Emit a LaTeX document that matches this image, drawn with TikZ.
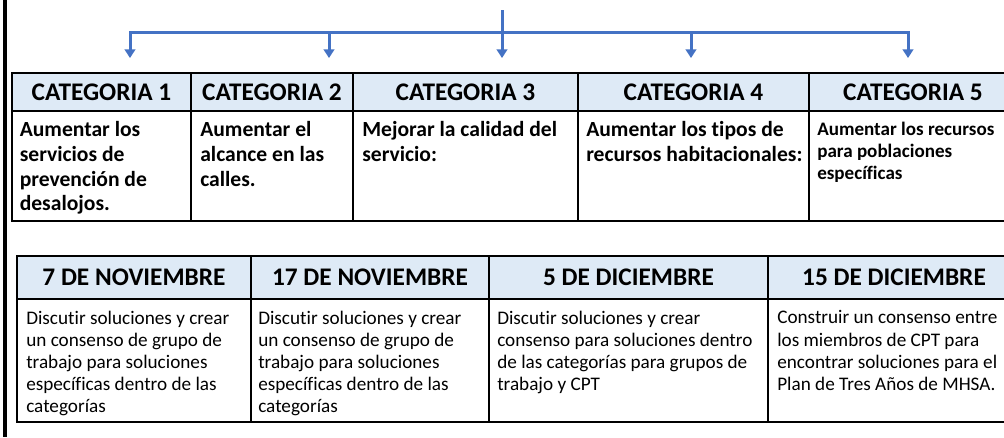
\documentclass[tikz,border=0pt]{standalone}
\usepackage{fontspec}
\setmainfont{Carlito}[Ligatures=NoCommon]
\usepackage{tikz}
\usetikzlibrary{arrows.meta}
\definecolor{headblue}{RGB}{222,234,246}
\definecolor{linkblue}{RGB}{68,114,196}
\tikzstyle{cell} = [draw=black, line width=0.9pt]
\tikzstyle{headcell} = [cell, fill=headblue]
\tikzstyle{title} = [draw=none, inner sep=0pt, font=\fontsize{19}{21}\selectfont\bfseries]
\tikzstyle{catnote} = [draw=none, inner sep=0pt, anchor=north west, align=left, font=\fontsize{16.2}{18.5}\selectfont\bfseries]
\tikzstyle{datenote} = [draw=none, inner sep=0pt, anchor=north west, align=left, font=\fontsize{14.4}{16.6}\selectfont]
\tikzstyle{link} = [draw=linkblue, line width=2.25pt, >={Triangle[length=6.5pt,width=8pt]}]

\begin{document}
\begin{tikzpicture}[x=0.75pt, y=-0.75pt]
		\useasboundingbox (0,0) rectangle (1004,437);
		\clip (0,0) rectangle (1004,437);
		\fill[white] (0,0) rectangle (1004,437);
		\draw[line width=2.4pt] (5,0) -- (5,437);
		
		% categorias
		\draw[headcell] (12,73) rectangle (1030,111);
		\draw[cell] (12,111) rectangle (1030,221);
		\draw[cell] (191,73) -- (191,221);
		\draw[cell] (353,73) -- (353,221);
		\draw[cell] (578,73) -- (578,221);
		\draw[cell] (809,73) -- (809,221);
		
		\node[title] (c1) at (101.5,92) {CATEGORIA 1};
		\node[title] (c2) at (272,92) {CATEGORIA 2};
		\node[title] (c3) at (465.5,92) {CATEGORIA 3};
		\node[title] (c4) at (693.5,92) {CATEGORIA 4};
		\node[title] (c5) at (913,92) {CATEGORIA 5};
		
		\node[catnote] (n1) at (19.5,121.5) {Aumentar los\\servicios de\\prevención de\\desalojos.};
		\node[catnote] (n2) at (200,121.5) {Aumentar el\\alcance en las\\calles.};
		\node[catnote] (n3) at (362,121.5) {Mejorar la calidad del\\servicio:};
		\node[catnote] (n4) at (586,121.5) {Aumentar los tipos de\\recursos habitacionales:};
		\node[catnote, font=\fontsize{14.3}{16.5}\selectfont\bfseries] (n5) at (817,121.5) {Aumentar los recursos\\para poblaciones\\específicas};
		
		% flechas
		\coordinate (top) at (502,10);
		\coordinate (t1) at (130,58);
		\coordinate (t2) at (329,58);
		\coordinate (t3) at (502,58);
		\coordinate (t4) at (691,58);
		\coordinate (t5) at (908,58);
		\coordinate (j5) at (908,32);
		\draw[link, <->] (t1) |- (j5) -- (t5);
		\draw[link, ->] (t2 |- j5) -- (t2);
		\draw[link, ->] (top) -- (t3);
		\draw[link, ->] (t4 |- j5) -- (t4);
		
		% fechas
		\draw[headcell] (17,256) rectangle (1030,299);
		\draw[cell] (17,299) rectangle (1030,422);
		\draw[cell] (251,256) -- (251,422);
		\draw[cell] (489,256) -- (489,422);
		\draw[cell] (768,256) -- (768,422);
		
		\node[title] (f1) at (134,277.5) {7 DE NOVIEMBRE};
		\node[title] (f2) at (370,277.5) {17 DE NOVIEMBRE};
		\node[title] (f3) at (628.5,277.5) {5 DE DICIEMBRE};
		\node[title] (f4) at (894,277.5) {15 DE DICIEMBRE};
		
		\node[datenote] (m1) at (26,310.5) {Discutir soluciones y crear\\un consenso de grupo de\\trabajo para soluciones\\específicas dentro de las\\categorías};
		\node[datenote] (m2) at (258,310.5) {Discutir soluciones y crear\\un consenso de grupo de\\trabajo para soluciones\\específicas dentro de las\\categorías};
		\node[datenote] (m3) at (497,310.5) {Discutir soluciones y crear\\consenso para soluciones dentro\\de las categorías para grupos de\\trabajo y CPT};
		\node[datenote] (m4) at (777,310.5) {Construir un consenso entre\\los miembros de CPT para\\encontrar soluciones para el\\Plan de Tres Años de MHSA.};
	\end{tikzpicture}
\end{document}
